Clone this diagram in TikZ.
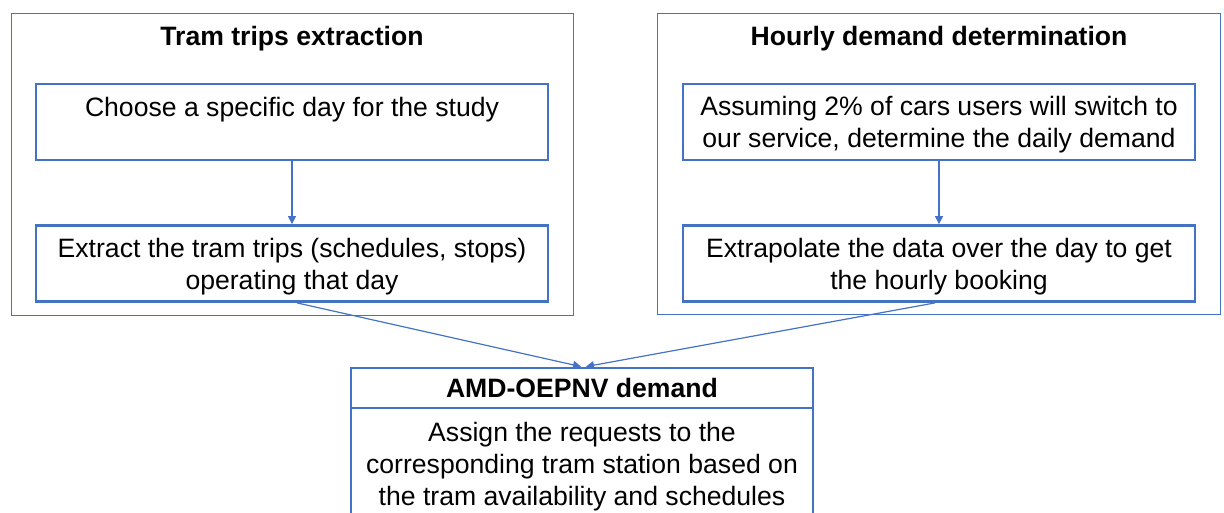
\documentclass[tikz,border=0pt]{standalone}
\usepackage{fontspec}
\setmainfont{Liberation Sans}
\usetikzlibrary{arrows.meta}
\definecolor{bord}{HTML}{4472C4}
\tikzset{
  outerbox/.style={draw=bord, line width=1pt, inner sep=0pt},
  innerbox/.style={draw=bord, line width=2.8pt, inner sep=0pt},
  txt/.style={font=\fontsize{26.6}{32}\selectfont, align=center, anchor=base, inner sep=0pt},
  ttl/.style={font=\fontsize{26.6}{32}\selectfont\bfseries, anchor=base, inner sep=0pt},
  conn/.style={draw=bord, line width=1.2pt, -{Triangle[length=8pt,width=8pt]}}
}
\begin{document}
\begin{tikzpicture}[x=1pt,y=1pt]
\useasboundingbox (0,0) rectangle (1224,-512);
% outer boxes
\node[outerbox, minimum width=562pt, minimum height=302pt] (lo) at (292,-164) {};
\node[outerbox, minimum width=563pt, minimum height=301pt] (ro) at (938.5,-163.5) {};
% inner boxes
\node[innerbox, minimum width=512pt, minimum height=76pt] (l1) at (292,-122) {};
\node[innerbox, minimum width=512pt, minimum height=76pt] (l2) at (292,-263.5) {};
\node[innerbox, minimum width=512pt, minimum height=76pt] (r1) at (939,-122) {};
\node[innerbox, minimum width=512pt, minimum height=76pt] (r2) at (939,-263.5) {};
% bottom box
\node[innerbox, minimum width=462pt, minimum height=40pt] (bt) at (582,-388) {};
\node[innerbox, minimum width=462pt, minimum height=130pt] (bb) at (582,-473) {};
% titles
\node[ttl] (tl) at (292,-45) {Tram trips extraction};
\node[ttl] (tr) at (939,-45) {Hourly demand determination};
\node[ttl] (tb) at (582,-397) {AMD-OEPNV demand};
% texts
\node[txt] (t1) at (292,-116) {Choose a specific day for the study};
\node[txt] (t2) at (292,-289) {Extract the tram trips (schedules, stops)\\operating that day};
\node[txt] (t3) at (939,-147) {Assuming 2\% of cars users will switch to\\our service, determine the daily demand};
\node[txt] (t4) at (939,-289) {Extrapolate the data over the day to get\\the hourly booking};
\node[txt] (t5) at (582,-505) {Assign the requests to the\\corresponding tram station based on\\the tram availability and schedules};
% connectors
\draw[conn] (l1.south) -- (l2.north);
\draw[conn] (r1.south) -- (r2.north);
\draw[conn] ([xshift=5pt]l2.south) -- ([xshift=-1pt]bt.north);
\draw[conn] ([xshift=-4pt]r2.south) -- ([xshift=4pt]bt.north);
\end{tikzpicture}
\end{document}
